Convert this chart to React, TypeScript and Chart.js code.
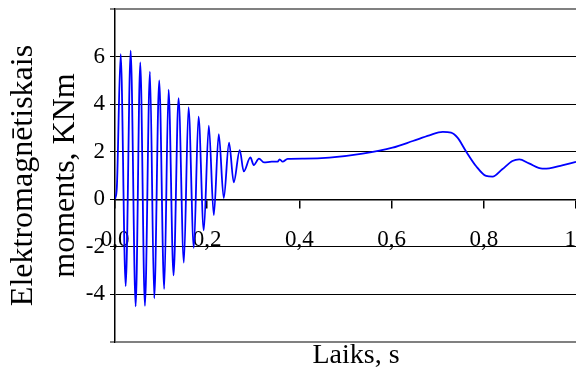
import React, { useEffect, useRef } from "react";
import { Chart, registerables } from "chart.js";

Chart.register(...registerables);

// Time, s
const timeS = [
  0, 0.004, 0.0123, 0.0232, 0.034, 0.0448, 0.0548, 0.0649, 0.0758, 0.0851,
  0.0959, 0.1067, 0.1162, 0.127, 0.1379, 0.1494, 0.1595, 0.171, 0.1812, 0.1926,
  0.2035, 0.2143, 0.2251, 0.2359, 0.2474, 0.2576, 0.2706, 0.2792, 0.2937, 0.3009,
  0.3123, 0.3232, 0.34, 0.3528, 0.3571, 0.3636, 0.3745, 0.4113, 0.465, 0.537,
  0.602, 0.646, 0.682, 0.711, 0.729, 0.743, 0.761, 0.783, 0.805, 0.819,
  0.84, 0.862, 0.877, 0.898, 0.927, 0.942, 0.97, 1.0,
];

// Electromagnetic torque, KNm
const torqueKNm = [
  0, 0.5, 6.1, -3.65, 6.25, -4.5, 5.76, -4.48, 5.37, -4.16,
  5.0, -3.77, 4.61, -3.2, 4.25, -2.66, 3.86, -2.04, 3.47, -1.31,
  3.1, -0.67, 2.74, 0.05, 2.38, 0.71, 2.07, 1.17, 1.76, 1.44,
  1.71, 1.55, 1.58, 1.58, 1.68, 1.58, 1.7, 1.71, 1.75, 1.92,
  2.17, 2.45, 2.69, 2.83, 2.8, 2.59, 2.03, 1.4, 0.98, 0.95,
  1.26, 1.61, 1.68, 1.51, 1.29, 1.3, 1.43, 1.57,
];

const xTickLabels = ["0,0", "0,2", "0,4", "0,6", "0,8", "1"];
const yTickValues = [-4, -2, 0, 2, 4, 6];

const yTitle = ["Elektromagnētiskais", "moments, KNm"];
const xTitle = "Laiks, s";

const FONT = "'Liberation Serif', 'Times New Roman', serif";

export default function App() {
  const ref = useRef<HTMLCanvasElement | null>(null);

  useEffect(() => {
    if (!ref.current) return;
    const chart = new Chart(ref.current, {
      type: "line",
      data: {
        datasets: [
          {
            data: timeS.map((t, i) => ({ x: t, y: torqueKNm[i] })),
            borderColor: "#0000ff",
            borderWidth: 1.8,
            pointRadius: 0,
            fill: false,
            cubicInterpolationMode: "monotone",
          },
        ],
      },
      options: {
        responsive: false,
        animation: false,
        layout: { padding: { top: 9, left: 0, right: 0, bottom: 0 } },
        plugins: {
          legend: { display: false },
          tooltip: { enabled: false },
          title: {
            display: true,
            position: "bottom",
            fullSize: false,
            text: "\u00a0\u00a0\u00a0" + xTitle,
            color: "#000",
            font: { family: FONT, size: 28, lineHeight: 1, weight: "normal" },
            padding: { top: 0, bottom: 2 },
          },
        },
        scales: {
          x: {
            type: "linear",
            min: 0,
            max: 1,
            position: { y: 0 } as any,
            ticks: {
              stepSize: 0.2,
              autoSkip: false,
              maxRotation: 0,
              padding: 19,
              color: "#000",
              font: { family: FONT, size: 23 },
              callback: (_v: any, i: number) =>
                i === xTickLabels.length - 1
                  ? xTickLabels[i] + "\u00a0\u00a0"
                  : xTickLabels[i],
            },
            grid: {
              display: true,
              drawOnChartArea: false,
              drawTicks: true,
              tickLength: 8,
              color: "#000",
              lineWidth: 1.5,
            },
            border: { display: true, color: "#000", width: 1.5 },
            afterFit: (s: any) => {
              s.paddingLeft = 0;
              s.paddingRight = 0;
            },
          },
          y: {
            type: "linear",
            min: -6,
            max: 8,
            ticks: {
              stepSize: 2,
              padding: 5,
              color: "#000",
              font: { family: FONT, size: 23 },
              callback: (v: any) =>
                yTickValues.includes(Number(v)) ? String(v) : "",
            },
            grid: {
              drawTicks: true,
              tickLength: 5,
              color: (c: any) =>
                c.tick && (c.tick.value === -6 || c.tick.value === 8)
                  ? "#808080"
                  : "#000000",
              lineWidth: (c: any) =>
                c.tick && (c.tick.value === -6 || c.tick.value === 8) ? 2 : 1,
            },
            border: { display: true, color: "#000", width: 1.5 },
            title: {
              display: true,
              text: yTitle,
              color: "#000",
              font: { family: FONT, size: 32, lineHeight: 1.3 },
              padding: { top: 3, bottom: 0 },
            },
            afterFit: (s: any) => {
              s.width = 115;
              s.paddingTop = 0;
              s.paddingBottom = 0;
            },
          },
        },
      },
    });
    return () => chart.destroy();
  }, []);

  return (
    <div style={{ position: "absolute", left: 0, top: 0, width: 576, height: 372, background: "#fff" }}>
      <canvas ref={ref} width={576} height={372} style={{ display: "block" }} />
    </div>
  );
}
